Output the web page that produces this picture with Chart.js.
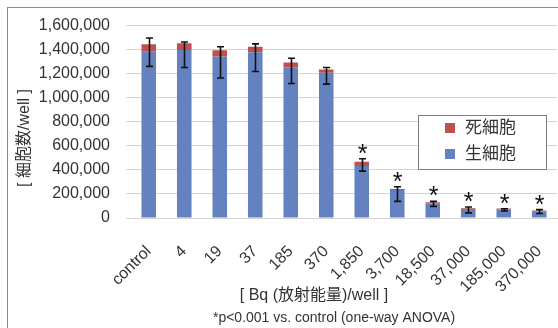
<!DOCTYPE html>
<html>
<head>
<meta charset="utf-8">
<script src="https://cdn.jsdelivr.net/npm/chart.js@4.4.1/dist/chart.umd.min.js"></script>
<style>
  html, body { margin: 0; padding: 0; background: #ffffff; overflow: hidden; }
  #wrap { width: 558px; height: 328px; }
</style>
</head>
<body>
<div id="wrap"><canvas id="cellChart" width="558" height="328"></canvas></div>
<script>
// Data
const categories = ['control', '4', '19', '37', '185', '370', '1,850', '3,700', '18,500', '37,000', '185,000', '370,000'];
const liveCells = [1383000, 1397000, 1343000, 1378000, 1251000, 1207000, 433000, 233000, 122000, 75000, 73000, 57000];
const deadCells = [62000, 57000, 51000, 46000, 43000, 27000, 35000, 8000, 8000, 6000, 6000, 5000];
const errorHigh = [1497000, 1464000, 1424000, 1448000, 1329000, 1251000, 493000, 260000, 138000, 92000, 77000, 70000];
const errorLow = [1261000, 1251000, 1164000, 1218000, 1118000, 1113000, 390000, 138000, 97000, 43000, 58000, 38000];
const significant = [false, false, false, false, false, false, true, true, true, true, true, true];
const yMax = 1600000;
const yStep = 200000;

const seriesLabels = { live: '生細胞', dead: '死細胞' };
const colors = { live: '#6482BF', dead: '#C0504D' };

const FONT = '"Liberation Sans", Arial, "Noto Sans CJK JP", sans-serif';
const TEXT_COLOR = '#333333';
const GRID_COLOR = '#d4d4d4';

// Draws frame, error bars, asterisks, titles and legend
const decorPlugin = {
    id: 'decor',
    beforeDraw(chart) {
        const ctx = chart.ctx;
        ctx.save();
        ctx.strokeStyle = '#8c8c8c';
        ctx.lineWidth = 1;
        ctx.strokeRect(7.5, 7.5, 700, 500);
        ctx.restore();
    },
    afterDatasetsDraw(chart) {
        const ctx = chart.ctx;
        const y = chart.scales.y;
        const meta = chart.getDatasetMeta(0);
        ctx.save();
        ctx.strokeStyle = '#111111';
        ctx.lineWidth = 1.6;
        meta.data.forEach((bar, i) => {
            const x = Math.round(bar.x) + 0.5;
            const top = y.getPixelForValue(errorHigh[i]);
            const bottom = y.getPixelForValue(errorLow[i]);
            ctx.beginPath();
            ctx.moveTo(x, top);
            ctx.lineTo(x, bottom);
            ctx.moveTo(x - 3.5, top);
            ctx.lineTo(x + 3.5, top);
            ctx.moveTo(x - 3.5, bottom);
            ctx.lineTo(x + 3.5, bottom);
            ctx.stroke();
            if (significant[i]) {
                ctx.fillStyle = '#111111';
                ctx.font = '25px ' + FONT;
                ctx.textAlign = 'center';
                ctx.textBaseline = 'alphabetic';
                ctx.fillText('*', x, top + 3);
            }
        });
        ctx.restore();
    },
    afterDraw(chart) {
        const ctx = chart.ctx;
        ctx.save();
        ctx.fillStyle = TEXT_COLOR;
        ctx.textAlign = 'center';
        ctx.textBaseline = 'middle';

        // y axis title
        ctx.save();
        ctx.translate(25, 138);
        ctx.rotate(-Math.PI / 2);
        ctx.font = '16px ' + FONT;
        ctx.fillText('[ 細胞数/well ]', 0, 0);
        ctx.restore();

        // x axis title and footnote
        ctx.font = '16px ' + FONT;
        ctx.fillText('[ Bq (放射能量)/well ]', 314, 296);
        ctx.font = '14px ' + FONT;
        ctx.fillText('*p<0.001 vs. control (one-way ANOVA)', 334, 318);

        // legend
        const lx = 418, ly = 115, lw = 128, lh = 54;
        ctx.fillStyle = '#ffffff';
        ctx.fillRect(lx, ly, lw, lh);
        ctx.strokeStyle = '#7f7f7f';
        ctx.lineWidth = 1;
        ctx.strokeRect(lx + 0.5, ly + 0.5, lw, lh);
        const items = [
            { label: seriesLabels.dead, color: colors.dead },
            { label: seriesLabels.live, color: colors.live }
        ];
        ctx.font = '17px ' + FONT;
        ctx.textAlign = 'left';
        items.forEach((item, i) => {
            const cy = ly + 13 + i * 26;
            ctx.fillStyle = item.color;
            ctx.fillRect(lx + 27, cy - 5, 10, 10);
            ctx.fillStyle = TEXT_COLOR;
            ctx.fillText(item.label, lx + 47, cy);
        });
        ctx.restore();
    }
};

new Chart(document.getElementById('cellChart'), {
    type: 'bar',
    data: {
        labels: categories,
        datasets: [
            {
                label: seriesLabels.live,
                data: liveCells,
                backgroundColor: colors.live,
                barPercentage: 0.41,
                categoryPercentage: 1.0
            },
            {
                label: seriesLabels.dead,
                data: deadCells,
                backgroundColor: colors.dead,
                barPercentage: 0.41,
                categoryPercentage: 1.0
            }
        ]
    },
    options: {
        responsive: false,
        animation: false,
        devicePixelRatio: 1,
        layout: { padding: { left: 0, right: 1, top: 21, bottom: 0 } },
        plugins: {
            legend: { display: false },
            tooltip: { enabled: false }
        },
        scales: {
            x: {
                stacked: true,
                grid: { display: false, drawTicks: false },
                border: { display: true, color: GRID_COLOR },
                ticks: {
                    autoSkip: false,
                    maxRotation: 45,
                    minRotation: 45,
                    padding: 24,
                    color: TEXT_COLOR,
                    font: { family: FONT, size: 16 }
                },
                afterFit(scale) {
                    scale.height = 110;
                    scale.paddingLeft = 0;
                    scale.paddingRight = 0;
                }
            },
            y: {
                stacked: true,
                min: 0,
                max: yMax,
                grid: { color: GRID_COLOR, tickLength: 5 },
                border: { display: false },
                ticks: {
                    stepSize: yStep,
                    padding: 16,
                    color: TEXT_COLOR,
                    font: { family: FONT, size: 16 },
                    callback: (v) => v.toLocaleString('en-US')
                },
                afterFit(scale) { scale.width = 131; }
            }
        }
    },
    plugins: [decorPlugin]
});
</script>
</body>
</html>
